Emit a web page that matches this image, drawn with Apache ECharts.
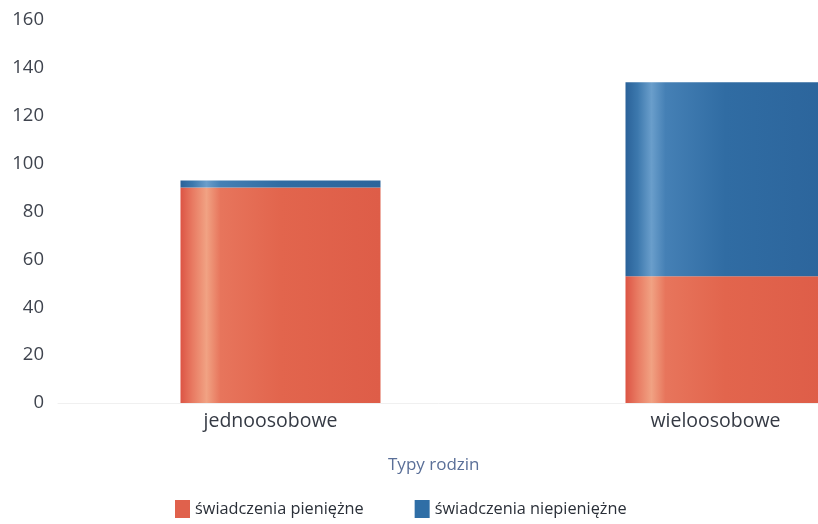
<!DOCTYPE html>
<html><head><meta charset="utf-8">
<script src="https://cdn.jsdelivr.net/npm/echarts@6/dist/echarts.min.js"></script>
<style>html,body{margin:0;padding:0;background:#fff}#c{width:818px;height:524px}</style>
</head><body><div id="c"></div>
<script>
const categories = ['jednoosobowe', 'wieloosobowe'];
const seriesNames = ['świadczenia pieniężne', 'świadczenia niepieniężne'];
const cashValues = [90, 53];
const nonCashValues = [3, 81];
const yTicks = [0, 20, 40, 60, 80, 100, 120, 140, 160];
const axisTitle = 'Typy rodzin';

function grad(stops) {
  return new echarts.graphic.LinearGradient(0, 0, 1, 0, stops.map(s => ({offset: s[0], color: s[1]})));
}
const redGrad = grad([[0, '#dc5444'], [0.06, '#e87a62'], [0.13, '#f1a283'], [0.2, '#e7755c'], [0.5, '#e2654d'], [1, '#de5d48']]);
const blueGrad = grad([[0, '#2a6299'], [0.06, '#3c78ad'], [0.13, '#6a9ecb'], [0.2, '#4580b5'], [0.5, '#306ca3'], [1, '#2c659c']]);

const chart = echarts.init(document.getElementById('c'));
chart.setOption({
  animation: false,
  textStyle: {fontFamily: 'Open Sans'},
  title: {
    text: axisTitle, left: 383, top: 452,
    textStyle: {fontSize: 17, fontWeight: 'normal', color: '#5a6f98', fontFamily: 'Open Sans'}
  },
  legend: {
    left: 170, top: 495, itemWidth: 15, itemHeight: 18, itemGap: 51, icon: 'rect',
    textStyle: {fontSize: 16.3, color: '#2a2f38', fontFamily: 'Open Sans'},
    data: [
      {name: seriesNames[0], itemStyle: {color: '#e0614c'}},
      {name: seriesNames[1], itemStyle: {color: '#2f6ea6'}}
    ]
  },
  grid: {left: 58, width: 890, top: 20, bottom: 121, containLabel: false, outerBoundsMode: 'none'},
  xAxis: {
    type: 'category', data: categories,
    axisLine: {show: true, lineStyle: {color: '#f0f0f0'}},
    axisTick: {show: false},
    axisLabel: {fontSize: 19.5, color: '#353a44', margin: 8, padding: [0, 20, 0, 0]}
  },
  yAxis: {
    type: 'value', min: yTicks[0], max: yTicks[yTicks.length - 1], interval: 20,
    splitLine: {show: false},
    axisLine: {show: false}, axisTick: {show: false},
    axisLabel: {fontSize: 18.5, color: '#3f444e', margin: 14}
  },
  series: [
    {name: seriesNames[0], type: 'bar', stack: 's', barWidth: 200, data: cashValues,
     itemStyle: {color: redGrad}},
    {name: seriesNames[1], type: 'bar', stack: 's', barWidth: 200, data: nonCashValues,
     itemStyle: {color: blueGrad}}
  ]
});
</script></body></html>
